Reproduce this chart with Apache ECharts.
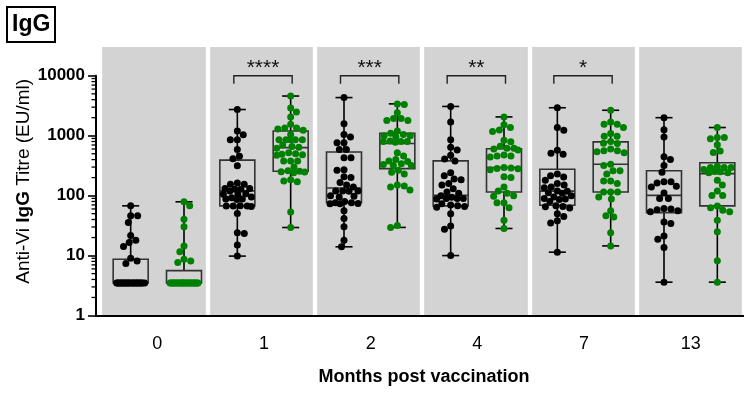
<!DOCTYPE html>
<html>
<head>
<meta charset="utf-8">
<script src="https://cdn.jsdelivr.net/npm/echarts@6/dist/echarts.min.js"></script>
<style>
html,body{margin:0;padding:0;background:#fff;}
#c{width:744px;height:397px;}
</style>
</head>
<body>
<div id="c"></div>
<script>
// ---------------- data ----------------
const months = ['0', '1', '2', '4', '7', '13'];
const groupLabels = ['Group A', 'Group B'];

const blackM0 = [67.6, 46, 46, 35.7, 21.7, 18.1, 16.6, 14.2, 9.0, 8.1, 7.4,
  3.5, 3.5, 3.5, 3.5, 3.5, 3.5, 3.5, 3.5, 3.5, 3.5, 3.5, 3.5,
  3.5, 3.5, 3.5, 3.5, 3.5, 3.5, 3.5, 3.5, 3.5, 3.5, 3.5, 3.5];
const greenM0 = [79, 67.6, 40.5, 30.3, 14.4, 11.6, 8.7, 8.1, 7.7,
  3.5, 3.5, 3.5, 3.5, 3.5, 3.5, 3.5, 3.5, 3.5, 3.5, 3.5, 3.5, 3.5,
  3.5, 3.5, 3.5, 3.5, 3.5, 3.5, 3.5, 3.5, 3.5, 3.5, 3.5, 3.5, 3.5];
const blackM1 = [2735, 1200, 1040, 860, 860, 588, 455, 413, 316, 163, 155, 155, 131, 131, 128, 128,
  120, 108, 106, 104, 95, 92, 88, 88, 86, 67, 67, 68, 66, 67, 50.5, 23.4, 24, 15, 9.8];
const greenM1 = [4595, 2900, 2490, 2050, 1560, 1350, 1350, 1300, 1236, 1050, 860, 860, 860, 860, 860,
  700, 660, 640, 620, 520, 500, 490, 480, 470, 380, 380, 380, 300, 260, 255, 250, 248, 240,
  185, 175, 170, 53.6, 29.4];
const blackM2 = [4330, 1590, 1050, 950, 760, 760, 590, 590, 430, 430, 270, 265, 206, 200, 165, 150,
  140, 120, 120, 120, 118, 100, 98, 95, 80, 76, 74, 73, 73, 76, 56, 41.5, 30.3, 18, 14];
const greenM2 = [3400, 3330, 2420, 1930, 1800, 1800, 1930, 1200, 1050, 1000, 1000, 960, 1100, 800,
  800, 780, 800, 820, 460, 520, 400, 370, 380, 320, 320, 340, 330, 265, 230, 245, 150, 140, 124,
  145, 29.5, 31.8];
const blackM4 = [3080, 1700, 860, 640, 580, 470, 410, 380, 240, 215, 190, 185, 160, 150, 130, 115,
  110, 100, 94, 90, 90, 90, 88, 73, 70, 68, 66, 64, 50, 31.3, 27.6, 10];
const greenM4 = [2060, 1530, 1370, 1250, 1180, 840, 790, 670, 620, 620, 600, 580, 475, 460, 460, 440,
  294, 290, 285, 280, 270, 206, 200, 140, 120, 110, 100, 98, 76, 76, 63, 39, 28.3];
const blackM7 = [2930, 1370, 1236, 570, 510, 490, 230, 215, 205, 180, 160, 150, 140, 135, 120, 118,
  112, 110, 100, 95, 90, 88, 86, 80, 68, 66, 65, 62, 50, 45, 38, 35, 11.4];
const greenM7 = [2660, 1700, 1550, 1550, 1370, 1090, 980, 980, 800, 750, 740, 600, 560, 560, 540, 520,
  335, 320, 260, 260, 230, 175, 175, 160, 115, 115, 115, 95, 88, 56, 46, 44, 24, 14.5];
const blackM13 = [2000, 1260, 950, 445, 400, 317, 245, 170, 163, 170, 143, 140, 111, 90, 90, 61, 60,
  58, 56, 54, 36.5, 34.4, 21.3, 18.8, 13.7, 3.6];
const greenM13 = [1370, 930, 930, 890, 710, 555, 525, 310, 295, 295, 295, 272, 255, 250, 240, 240,
  181, 150, 120, 101, 101, 67.5, 63, 57, 54, 39, 25, 8.2, 3.6];

const blackGroups = [blackM0, blackM1, blackM2, blackM4, blackM7, blackM13];
const greenGroups = [greenM0, greenM1, greenM2, greenM4, greenM7, greenM13];

// box statistics, order: M0 A, M0 B, M1 A, M1 B, ...
const boxMin = [3.5, 3.5, 9.8, 29.4, 14, 29.5, 10, 28.3, 11.4, 14.5, 3.6, 3.6];
const boxQ1  = [3.5, 3.5, 67.5, 256, 77, 282, 67.5, 115, 69, 115, 52, 67.5];
const boxMed = [3.5, 3.5, 120, 632, 134, 740, 101, 294, 119, 335, 101, 233];
const boxQ3  = [8.7, 5.6, 391, 1200, 535, 1100, 380, 605, 276, 790, 260, 355];
const boxMax = [67.6, 79, 2735, 4595, 4330, 3400, 3080, 2060, 2930, 2660, 2000, 1370];

// significance brackets
const sigMonthIdx = [1, 2, 3, 4];
const sigLabels = ['****', '***', '**', '*'];
const bracketTop = 10000;
const bracketDrop = 7400;

// y axis minor ticks (log decades)
const minorMultipliers = [2, 3, 4, 5, 6, 7, 8, 9];
const decades = [1, 10, 100, 1000];

// ---------------- build ----------------
const FONT = 'Liberation Sans, Arial, Helvetica, sans-serif';
const AXIS_OFFSET = 8;
const dataCats = [];
months.forEach(m => { dataCats.push(m + ' ' + groupLabels[0]); dataCats.push(m + ' ' + groupLabels[1]); });
const minorValues = [];
decades.forEach(d => minorMultipliers.forEach(k => minorValues.push([0, d * k])));

const boxData = boxMin.map((v, i) => [i, boxMin[i], boxQ1[i], boxMed[i], boxQ3[i], boxMax[i]]);
const bracketData = sigMonthIdx.map(m => [2 * m, 2 * m + 1, bracketTop, bracketDrop]);

function pointsFor(groups, offsetIdx) {
  const out = [];
  groups.forEach((arr, m) => arr.forEach(v => out.push({ value: [2 * m + offsetIdx, v], symbolOffset: [0, 0] })));
  return out;
}
const blackPts = pointsFor(blackGroups, 0);
const greenPts = pointsFor(greenGroups, 1);

const chart = echarts.init(document.getElementById('c'), null, { renderer: 'canvas' });

const option = {
  animation: false,
  backgroundColor: '#fff',
  textStyle: { fontFamily: FONT },
  title: {
    text: 'IgG', left: 7, top: 7, padding: [4, 5],
    borderColor: '#000', borderWidth: 2,
    textStyle: { fontSize: 23, fontWeight: 'bold', color: '#000', fontFamily: FONT, lineHeight: 27 }
  },
  grid: [
    { left: 100, top: 47, width: 652, bottom: 81.5 },
    { left: 104, top: 75.8, right: 0, bottom: 81.5 },
    { left: 96, top: 75.8, right: 0, bottom: 81.5 }
  ],
  xAxis: [
    {
      gridIndex: 0, type: 'category', data: months, position: 'bottom',
      axisLine: { show: false }, axisTick: { show: false }, axisLabel: { show: false },
      splitArea: { show: true, interval: 0, areaStyle: { color: ['#d3d3d3'] } },
      splitLine: { show: true, interval: 0, lineStyle: { color: '#fff', width: 4.3 } }
    },
    { gridIndex: 1, type: 'category', data: dataCats, position: 'bottom', show: false },
    {
      gridIndex: 1, type: 'category', data: months, position: 'bottom',
      axisLine: { show: false, onZero: false }, axisTick: { show: false },
      axisLabel: { fontSize: 18, color: '#000', margin: 20, interval: 0, fontFamily: FONT },
      splitLine: { show: false },
      name: 'Months post vaccination', nameLocation: 'middle', nameGap: 53,
      nameTextStyle: { fontSize: 18, fontWeight: 'bold', color: '#000', fontFamily: FONT }
    },
    {
      gridIndex: 2, type: 'value', min: 0, max: 1, position: 'bottom',
      axisLine: { show: true, onZero: false, lineStyle: { color: '#000', width: 2 } },
      axisTick: { show: false }, axisLabel: { show: false }, splitLine: { show: false }
    }
  ],
  yAxis: [
    {
      gridIndex: 0, type: 'value', min: 0, max: 1, position: 'left',
      axisLine: { show: false }, axisTick: { show: false }, axisLabel: { show: false }, splitLine: { show: false },
      name: '{n|Anti-Vi }{b|IgG}{n| Titre (EU/ml)}', nameLocation: 'middle', nameGap: 67,
      nameTextStyle: {
        rich: {
          n: { fontSize: 19, color: '#000', fontFamily: FONT },
          b: { fontSize: 19, color: '#000', fontWeight: 'bold', fontFamily: FONT }
        }
      }
    },
    {
      gridIndex: 1, type: 'log', logBase: 10, min: 1, max: 10000, position: 'left', offset: AXIS_OFFSET,
      axisLine: { show: true, lineStyle: { color: '#000', width: 2 } },
      axisTick: { show: true, length: 8, lineStyle: { color: '#000', width: 1.6 } },
      axisLabel: {
        fontSize: 17, fontWeight: 'bold', color: '#000', margin: 11, fontFamily: FONT,
        formatter: v => String(Math.round(v))
      },
      splitLine: { show: false }
    },
    { gridIndex: 2, type: 'value', min: 0, max: 1, show: false }
  ],
  series: [
    {
      id: 'minorTicks', type: 'custom', xAxisIndex: 1, yAxisIndex: 1, clip: false, z: 5,
      silent: true, data: minorValues, encode: { x: 0, y: 1 },
      renderItem: function (params, api) {
        const y = api.coord([0, api.value(1)])[1];
        const ax = params.coordSys.x - AXIS_OFFSET;
        return {
          type: 'line', shape: { x1: ax - 4.5, y1: y, x2: ax, y2: y },
          style: { stroke: '#000', lineWidth: 1.3 }
        };
      }
    },
    {
      id: 'boxes', type: 'custom', xAxisIndex: 1, yAxisIndex: 1, clip: false, z: 2,
      data: boxData,
      encode: { x: 0, y: [1, 2, 3, 4, 5] },
      renderItem: function (params, api) {
        const i = api.value(0);
        const band = params.coordSys.width / dataCats.length;
        const x = api.coord([i, api.value(3)])[0];
        const yMin = api.coord([i, api.value(1)])[1];
        const yQ1 = api.coord([i, api.value(2)])[1];
        const yMed = api.coord([i, api.value(3)])[1];
        const yQ3 = api.coord([i, api.value(4)])[1];
        const yMax = api.coord([i, api.value(5)])[1];
        const bw = band * 0.656, cw = band * 0.32;
        const ws = { stroke: '#000', lineWidth: 1.6 };
        const bs = { stroke: '#333', lineWidth: 1.6, fill: null };
        return {
          type: 'group',
          children: [
            { type: 'line', shape: { x1: x, y1: yQ3, x2: x, y2: yMax }, style: ws },
            { type: 'line', shape: { x1: x, y1: yQ1, x2: x, y2: yMin }, style: ws },
            { type: 'line', shape: { x1: x - cw / 2, y1: yMax, x2: x + cw / 2, y2: yMax }, style: ws },
            { type: 'line', shape: { x1: x - cw / 2, y1: yMin, x2: x + cw / 2, y2: yMin }, style: ws },
            { type: 'rect', shape: { x: x - bw / 2, y: yQ3, width: bw, height: yQ1 - yQ3 }, style: bs },
            { type: 'line', shape: { x1: x - bw / 2, y1: yMed, x2: x + bw / 2, y2: yMed }, style: bs }
          ]
        };
      }
    },
    {
      id: 'ptsA', name: groupLabels[0], type: 'scatter', xAxisIndex: 1, yAxisIndex: 1, z: 3,
      symbol: 'circle', symbolSize: 7, itemStyle: { color: '#000', opacity: 1 }, data: blackPts
    },
    {
      id: 'ptsB', name: groupLabels[1], type: 'scatter', xAxisIndex: 1, yAxisIndex: 1, z: 3,
      symbol: 'circle', symbolSize: 7, itemStyle: { color: '#008000', opacity: 1 }, data: greenPts
    },
    {
      id: 'brackets', type: 'custom', xAxisIndex: 1, yAxisIndex: 1, clip: false, z: 4,
      data: bracketData,
      encode: { x: [0, 1], y: [2, 3] },
      renderItem: function (params, api) {
        const pl = api.coord([api.value(0), api.value(2)]);
        const pr = api.coord([api.value(1), api.value(2)]);
        const yDrop = api.coord([api.value(0), api.value(3)])[1];
        const xl = pl[0] - 3.5, xr = pr[0] + 1.5;
        return {
          type: 'group',
          children: [
            {
              type: 'polyline',
              shape: { points: [[xl, yDrop], [xl, pl[1]], [xr, pl[1]], [xr, yDrop]] },
              style: { stroke: '#222', lineWidth: 1.4, fill: null }
            },
            {
              type: 'text',
              style: {
                text: sigLabels[params.dataIndex], x: (xl + xr) / 2, y: pl[1] - 8,
                align: 'center', verticalAlign: 'middle',
                fontSize: 21, fontFamily: FONT, fill: '#111'
              }
            }
          ]
        };
      }
    }
  ]
};

chart.setOption(option);

// beeswarm layout of points (pixel offsets along x), computed from library pixel positions
function swarmOffsets(pys, d, W) {
  const idx = pys.map((_, i) => i).sort((a, b) => pys[a] - pys[b]);
  const placed = [];
  const out = new Array(pys.length).fill(0);
  let bias = 0;
  for (const i of idx) {
    const y = pys[i];
    const ivs = [];
    for (const p of placed) {
      const dy = Math.abs(p.y - y);
      if (dy < d) { const h = Math.sqrt(d * d - dy * dy); ivs.push([p.x - h, p.x + h]); }
    }
    const cands = [0];
    ivs.forEach(iv => cands.push(iv[0], iv[1]));
    const ok = cands.filter(c => Math.abs(c) <= W + 1e-9 &&
      ivs.every(iv => c <= iv[0] + 1e-9 || c >= iv[1] - 1e-9));
    let best = 0;
    if (ok.length) {
      ok.sort((a, b) => (Math.abs(a) - Math.abs(b)) || (bias <= 0 ? b - a : a - b));
      best = ok[0];
    } else {
      let bestScore = -1;
      for (let c = -W; c <= W + 1e-9; c += 0.5) {
        let m = Infinity;
        for (const p of placed) m = Math.min(m, Math.hypot(p.x - c, p.y - y));
        if (m > bestScore + 1e-9 || (Math.abs(m - bestScore) < 1e-9 && Math.abs(c) < Math.abs(best))) {
          bestScore = m; best = c;
        }
      }
    }
    placed.push({ x: best, y: y });
    out[i] = best;
    bias += Math.sign(best);
  }
  return out;
}

function applySwarm(pts) {
  const byCat = {};
  pts.forEach((p, k) => { (byCat[p.value[0]] = byCat[p.value[0]] || []).push(k); });
  Object.keys(byCat).forEach(cat => {
    const ks = byCat[cat];
    const pys = ks.map(k => chart.convertToPixel({ xAxisIndex: 1, yAxisIndex: 1 }, pts[k].value)[1]);
    const dx = swarmOffsets(pys, 7, 14);
    ks.forEach((k, j) => { pts[k].symbolOffset = [dx[j], 0]; });
  });
}
applySwarm(blackPts);
applySwarm(greenPts);
chart.setOption({ series: [{ id: 'ptsA', data: blackPts }, { id: 'ptsB', data: greenPts }] });
</script>
</body>
</html>
